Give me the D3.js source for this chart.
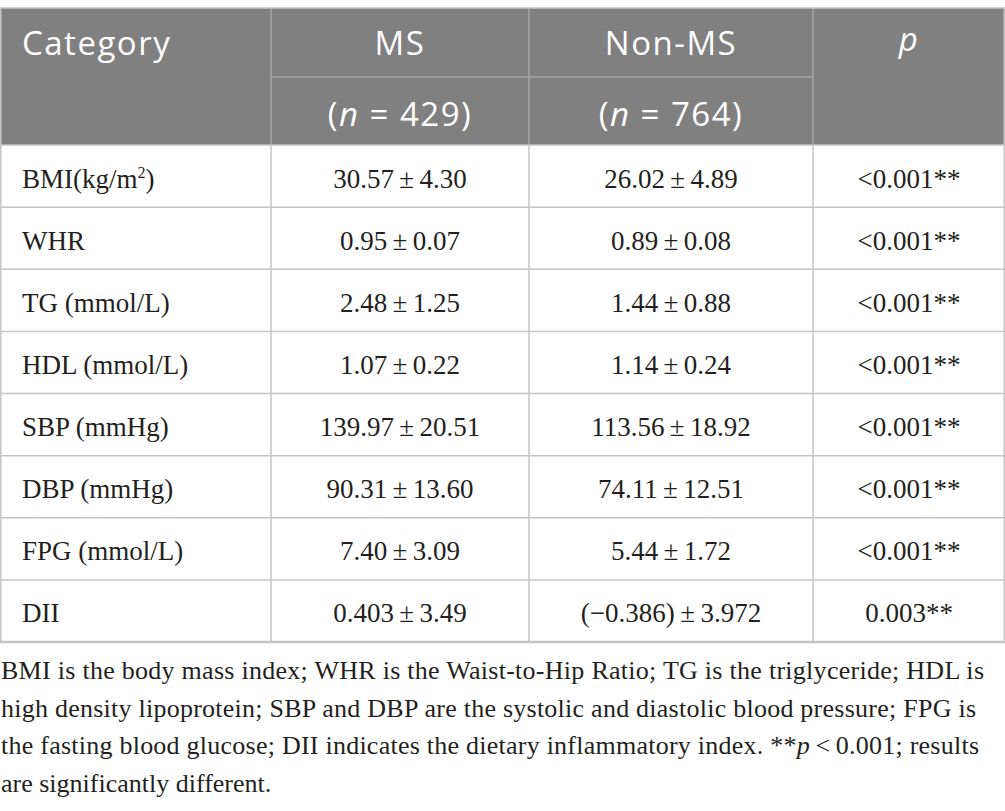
<!DOCTYPE html>
<html lang="en">
<head>
  <meta charset="UTF-8">
  <title>MS vs Non-MS characteristics</title>
  <script src="https://d3js.org/d3.v7.min.js"></script>
  <style>
    body { margin: 0; background: #fff; }
    .head { font-family: "Open Sans", "Noto Sans", sans-serif; fill: #fff; letter-spacing: 1.5px; }
    .cell { font-family: "Liberation Serif", "DejaVu Serif", serif; fill: #231f20; }
    .note { font-family: "Liberation Serif", "DejaVu Serif", serif; fill: #231f20; }
  </style>
</head>
<body>
  <div id="chart"></div>

  <script>
    // table data
    const columns = ["Category", "MS", "Non-MS", "p"];
    const groupSizes = ["429", "764"];
    const categories = ["BMI(kg/m2)", "WHR", "TG (mmol/L)", "HDL (mmol/L)", "SBP (mmHg)", "DBP (mmHg)", "FPG (mmol/L)", "DII"];
    const msValues = ["30.57 ± 4.30", "0.95 ± 0.07", "2.48 ± 1.25", "1.07 ± 0.22", "139.97 ± 20.51", "90.31 ± 13.60", "7.40 ± 3.09", "0.403 ± 3.49"];
    const nonMsValues = ["26.02 ± 4.89", "0.89 ± 0.08", "1.44 ± 0.88", "1.14 ± 0.24", "113.56 ± 18.92", "74.11 ± 12.51", "5.44 ± 1.72", "(−0.386) ± 3.972"];
    const pValues = ["<0.001**", "<0.001**", "<0.001**", "<0.001**", "<0.001**", "<0.001**", "<0.001**", "0.003**"];
    const footnoteLines = [
      "BMI is the body mass index; WHR is the Waist-to-Hip Ratio; TG is the triglyceride; HDL is",
      "high density lipoprotein; SBP and DBP are the systolic and diastolic blood pressure; FPG is",
      "the fasting blood glucose; DII indicates the dietary inflammatory index. **p < 0.001; results",
      "are significantly different."
    ];

    const W = 1005, H = 811;
    const colEdges = [0, 271, 529, 813, 1005];
    const tableTop = 8, headMid = 77, headBottom = 145, tableBottom = 642;
    const headBg = "#808080", headLine = "#a6a6a6", gridLine = "#c4c4c4";

    const svg = d3.select("#chart").append("svg")
      .attr("width", W).attr("height", H);

    const colLeft = d3.scaleOrdinal().domain(columns).range(colEdges.slice(0, 4));
    const colWidth = d3.scaleOrdinal().domain(columns).range(d3.pairs(colEdges).map(([a, b]) => b - a));
    const colMid = c => colLeft(c) + colWidth(c) / 2;

    const y = d3.scaleBand().domain(categories).range([headBottom, tableBottom]);
    const yHead = d3.scaleBand().domain(["top", "sub"]).range([tableTop, headBottom]);

    // header block
    svg.append("rect")
      .attr("x", 0).attr("y", tableTop)
      .attr("width", W).attr("height", headBottom - tableTop)
      .attr("fill", headBg);

    svg.append("line")
      .attr("x1", colLeft("MS")).attr("x2", colLeft("p"))
      .attr("y1", headMid).attr("y2", headMid)
      .attr("stroke", headLine).attr("stroke-width", 1.5);

    svg.selectAll(".hsep")
      .data(colEdges.slice(1, 4))
      .enter().append("line")
      .attr("x1", d => d).attr("x2", d => d)
      .attr("y1", tableTop).attr("y2", headBottom)
      .attr("stroke", headLine).attr("stroke-width", 1.5);

    svg.append("line")
      .attr("x1", 0).attr("x2", W)
      .attr("y1", tableTop).attr("y2", tableTop)
      .attr("stroke", gridLine).attr("stroke-width", 1.5);

    const headY = yHead("top") + yHead.bandwidth() / 2 + 13;
    const subY = yHead("sub") + yHead.bandwidth() / 2 + 15;

    svg.append("text").attr("class", "head")
      .attr("x", colLeft("Category") + 22).attr("y", headY)
      .style("font-size", "33px")
      .text("Category");

    ["MS", "Non-MS"].forEach(c => {
      svg.append("text").attr("class", "head")
        .attr("x", colMid(c)).attr("y", headY)
        .attr("text-anchor", "middle")
        .style("font-size", "33px")
        .text(c);
    });

    svg.append("text").attr("class", "head")
      .attr("x", colMid("p")).attr("y", headY - 4)
      .attr("text-anchor", "middle")
      .style("font-size", "33px").style("font-style", "italic")
      .text("p");

    svg.selectAll(".sub")
      .data(groupSizes)
      .enter().append("text")
      .attr("class", "head")
      .attr("x", (d, i) => colMid(columns[i + 1]))
      .attr("y", subY)
      .attr("text-anchor", "middle")
      .style("font-size", "33px")
      .each(function(d) {
        const t = d3.select(this);
        t.append("tspan").text("(");
        t.append("tspan").style("font-style", "italic").text("n");
        t.append("tspan").text(" = " + d + ")");
      });

    // body grid
    svg.selectAll(".rowline")
      .data(categories)
      .enter().append("line")
      .attr("x1", 0).attr("x2", W)
      .attr("y1", d => y(d) + y.bandwidth()).attr("y2", d => y(d) + y.bandwidth())
      .attr("stroke", gridLine).attr("stroke-width", d => d === "DII" ? 2.5 : 1.5);

    svg.append("line")
      .attr("x1", 0).attr("x2", W)
      .attr("y1", headBottom).attr("y2", headBottom)
      .attr("stroke", gridLine).attr("stroke-width", 1.5);

    svg.selectAll(".colline")
      .data(colEdges)
      .enter().append("line")
      .attr("x1", d => Math.min(Math.max(d, 0.75), W - 0.75))
      .attr("x2", d => Math.min(Math.max(d, 0.75), W - 0.75))
      .attr("y1", d => (d === 0 || d === W) ? tableTop : headBottom)
      .attr("y2", tableBottom)
      .attr("stroke", gridLine).attr("stroke-width", 1.5);

    const rowBase = d => y(d) + y.bandwidth() / 2 + 11.5;

    // category labels
    svg.selectAll(".cat")
      .data(categories)
      .enter().append("text")
      .attr("class", "cell")
      .attr("x", colLeft("Category") + 22)
      .attr("y", rowBase)
      .style("font-size", "27px")
      .each(function(d) {
        const t = d3.select(this);
        if (d.endsWith("m2)")) {
          t.append("tspan").text(d.replace("m2)", "m"));
          t.append("tspan").attr("dy", -10).style("font-size", "16px").text("2");
          t.append("tspan").attr("dy", 10).text(")");
        } else {
          t.text(d);
        }
      });

    const valueCols = [["MS", msValues], ["Non-MS", nonMsValues], ["p", pValues]];
    valueCols.forEach(([c, vals]) => {
      svg.selectAll(".v-" + c)
        .data(vals)
        .enter().append("text")
        .attr("class", "cell")
        .attr("x", colMid(c))
        .attr("y", (d, i) => rowBase(categories[i]))
        .attr("text-anchor", "middle")
        .style("font-size", "27px")
        .text(d => d.replace(" ± ", "\u2009±\u2009"));
    });

    // footnote
    const noteBase = d3.scaleLinear().domain([0, 3]).range([679, 792]);
    const noteWidth = [983, 975, 978, null];
    svg.selectAll(".note")
      .data(footnoteLines)
      .enter().append("text")
      .attr("class", "note")
      .attr("x", 1)
      .attr("y", (d, i) => noteBase(i))
      .style("font-size", "26px")
      .each(function(d, i) {
        const t = d3.select(this);
        if (noteWidth[i]) t.attr("textLength", noteWidth[i]).attr("lengthAdjust", "spacing");
        if (d.includes("**p")) {
          const [a, b] = d.split("**p");
          t.append("tspan").text(a + "**");
          t.append("tspan").style("font-style", "italic").text("p");
          t.append("tspan").text(b.replace(" < ", "\u2009<\u2009"));
        } else {
          t.text(d);
        }
      });
  </script>
</body>
</html>
